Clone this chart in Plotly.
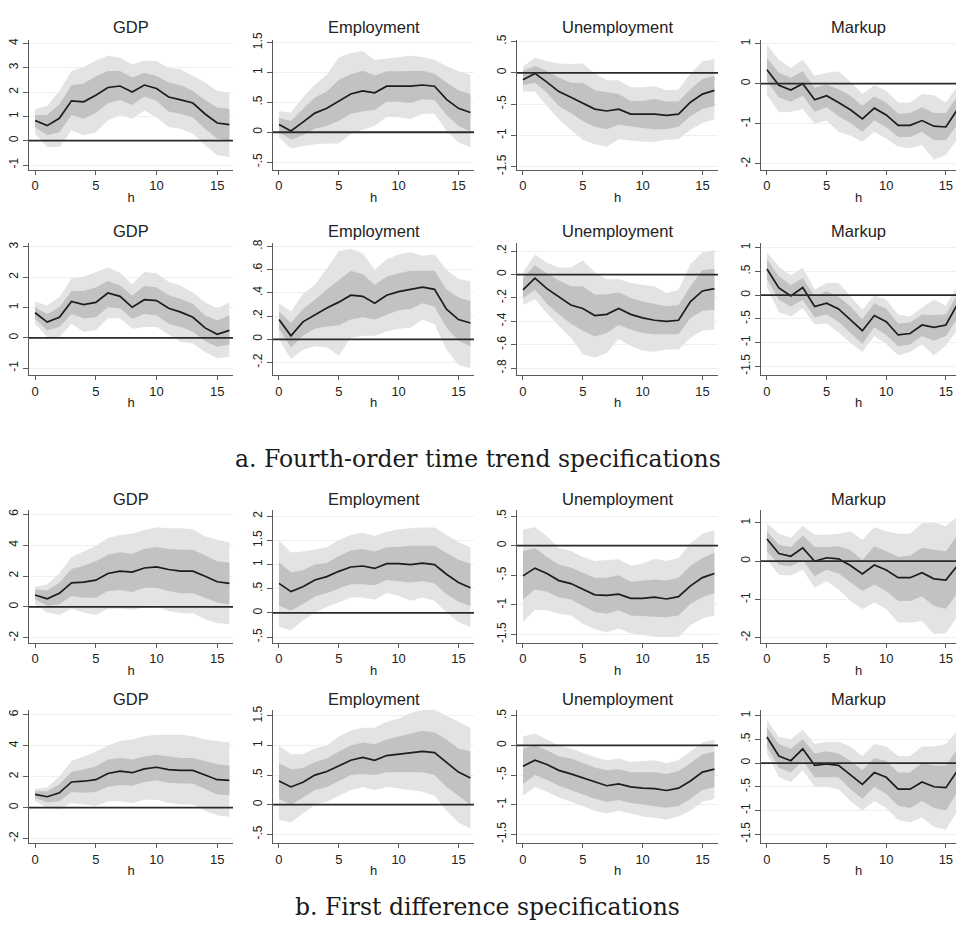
import plotly.graph_objects as go

# ---------------- data ----------------
h = list(range(17))
panel_titles = ["GDP", "Employment", "Unemployment", "Markup"]
caption_a = "a. Fourth-order time trend specifications"
caption_b = "b. First difference specifications"

# Row 1 (fourth-order trend, spec 1)
r1_gdp_line = [0.83,0.62,0.92,1.64,1.60,1.87,2.19,2.25,2.00,2.29,2.15,1.80,1.68,1.55,1.10,0.73,0.66]
r1_gdp_in_hi = [1.06,1.06,1.50,2.28,2.35,2.64,2.87,2.87,2.60,2.80,2.66,2.39,2.28,2.05,1.68,1.37,1.30]
r1_gdp_in_lo = [0.56,0.22,0.35,1.06,0.90,1.14,1.54,1.67,1.47,1.82,1.64,1.20,1.10,0.96,0.49,0.08,0.01]
r1_gdp_out_hi = [1.30,1.44,2.05,2.87,3.03,3.30,3.50,3.41,3.14,3.30,3.27,3.00,2.93,2.66,2.39,2.05,1.98]
r1_gdp_out_lo = [0.29,-0.26,-0.26,0.42,0.22,0.35,0.83,1.06,0.90,1.24,0.96,0.56,0.49,0.29,-0.19,-0.60,-0.67]

r1_emp_line = [0.13,0.02,0.17,0.32,0.40,0.52,0.64,0.69,0.66,0.77,0.77,0.77,0.79,0.77,0.55,0.40,0.33]
r1_emp_in_hi = [0.24,0.19,0.39,0.58,0.68,0.88,0.97,1.03,0.95,1.02,1.02,1.02,1.03,0.98,0.83,0.70,0.64]
r1_emp_in_lo = [0.00,-0.12,-0.05,0.06,0.11,0.19,0.31,0.35,0.37,0.51,0.51,0.49,0.55,0.54,0.29,0.11,0.01]
r1_emp_out_hi = [0.35,0.33,0.58,0.80,0.96,1.25,1.32,1.36,1.21,1.23,1.26,1.28,1.26,1.21,1.11,1.02,0.96]
r1_emp_out_lo = [-0.09,-0.27,-0.23,-0.20,-0.19,-0.19,-0.03,0.04,0.11,0.26,0.25,0.22,0.31,0.31,0.02,-0.17,-0.25]

r1_une_line = [-0.11,-0.01,-0.15,-0.30,-0.39,-0.49,-0.58,-0.61,-0.58,-0.66,-0.66,-0.66,-0.68,-0.66,-0.47,-0.34,-0.28]
r1_une_in_hi = [0.03,0.11,0.03,-0.08,-0.16,-0.16,-0.28,-0.31,-0.34,-0.45,-0.45,-0.42,-0.46,-0.46,-0.26,-0.10,-0.05]
r1_une_in_lo = [-0.20,-0.16,-0.32,-0.53,-0.64,-0.77,-0.86,-0.90,-0.83,-0.86,-0.88,-0.90,-0.90,-0.86,-0.69,-0.58,-0.53]
r1_une_out_hi = [0.10,0.24,0.19,0.15,0.14,0.15,-0.01,-0.12,-0.12,-0.23,-0.23,-0.21,-0.28,-0.27,-0.01,0.18,0.22]
r1_une_out_lo = [-0.30,-0.30,-0.53,-0.74,-0.91,-1.07,-1.14,-1.18,-1.06,-1.08,-1.10,-1.10,-1.07,-1.06,-0.91,-0.80,-0.74]

r1_mku_line = [0.35,-0.04,-0.16,0.00,-0.40,-0.30,-0.47,-0.65,-0.88,-0.61,-0.78,-1.04,-1.04,-0.92,-1.06,-1.08,-0.63]
r1_mku_in_hi = [0.64,0.27,0.15,0.31,-0.10,-0.02,-0.14,-0.30,-0.55,-0.32,-0.47,-0.75,-0.73,-0.59,-0.73,-0.73,-0.30]
r1_mku_in_lo = [0.07,-0.34,-0.45,-0.30,-0.70,-0.59,-0.81,-0.98,-1.20,-0.92,-1.08,-1.33,-1.33,-1.20,-1.41,-1.41,-1.00]
r1_mku_out_hi = [0.97,0.60,0.39,0.60,0.20,0.27,0.31,0.04,-0.26,-0.04,-0.18,-0.47,-0.47,-0.26,-0.29,-0.47,-0.06]
r1_mku_out_lo = [-0.29,-0.71,-0.70,-0.63,-1.00,-0.92,-1.20,-1.30,-1.45,-1.20,-1.37,-1.57,-1.61,-1.53,-1.90,-1.78,-1.37]

# Row 2 (fourth-order trend, spec 2)
r2_gdp_line = [0.83,0.52,0.68,1.20,1.10,1.17,1.48,1.37,1.01,1.26,1.23,0.98,0.85,0.68,0.33,0.12,0.25]
r2_gdp_in_hi = [1.01,0.79,1.01,1.55,1.55,1.66,1.88,1.74,1.39,1.72,1.66,1.41,1.28,1.12,0.74,0.58,0.74]
r2_gdp_in_lo = [0.63,0.25,0.36,0.79,0.65,0.68,1.01,0.98,0.63,0.79,0.74,0.47,0.36,0.20,-0.11,-0.29,-0.22]
r2_gdp_out_hi = [1.20,1.07,1.34,1.96,2.02,2.17,2.32,2.15,1.77,2.17,2.13,1.85,1.72,1.50,1.17,0.98,1.17]
r2_gdp_out_lo = [0.47,0.03,0.03,0.47,0.20,0.25,0.65,0.65,0.30,0.36,0.36,0.11,-0.13,-0.18,-0.46,-0.67,-0.62]

r2_emp_line = [0.17,0.03,0.15,0.21,0.27,0.32,0.38,0.37,0.31,0.38,0.41,0.43,0.45,0.43,0.26,0.17,0.14]
r2_emp_in_hi = [0.24,0.14,0.26,0.34,0.43,0.51,0.59,0.56,0.47,0.54,0.57,0.59,0.59,0.59,0.43,0.36,0.33]
r2_emp_in_lo = [0.09,-0.07,0.03,0.09,0.11,0.12,0.17,0.19,0.17,0.21,0.25,0.26,0.31,0.28,0.10,-0.01,-0.06]
r2_emp_out_hi = [0.31,0.24,0.39,0.47,0.61,0.76,0.78,0.74,0.60,0.69,0.73,0.75,0.72,0.73,0.60,0.52,0.50]
r2_emp_out_lo = [0.00,-0.17,-0.09,-0.06,-0.07,-0.14,0.01,0.03,0.03,0.07,0.09,0.10,0.17,0.13,-0.09,-0.22,-0.25]

r2_une_line = [-0.13,-0.03,-0.12,-0.19,-0.26,-0.29,-0.35,-0.34,-0.29,-0.34,-0.37,-0.39,-0.40,-0.39,-0.23,-0.14,-0.12]
r2_une_in_hi = [-0.03,0.08,0.01,-0.05,-0.10,-0.10,-0.17,-0.17,-0.15,-0.20,-0.23,-0.25,-0.27,-0.26,-0.10,0.04,0.05]
r2_une_in_lo = [-0.20,-0.13,-0.25,-0.34,-0.42,-0.48,-0.53,-0.50,-0.43,-0.47,-0.50,-0.51,-0.51,-0.51,-0.37,-0.31,-0.30]
r2_une_out_hi = [0.02,0.17,0.10,0.06,0.06,0.12,0.02,-0.04,-0.04,-0.07,-0.09,-0.10,-0.16,-0.13,0.09,0.19,0.21]
r2_une_out_lo = [-0.26,-0.21,-0.33,-0.44,-0.54,-0.68,-0.71,-0.67,-0.55,-0.61,-0.65,-0.66,-0.64,-0.64,-0.54,-0.48,-0.47]

r2_mku_line = [0.55,0.15,-0.02,0.16,-0.24,-0.17,-0.29,-0.51,-0.75,-0.43,-0.56,-0.84,-0.81,-0.63,-0.68,-0.63,-0.18]
r2_mku_in_hi = [0.75,0.40,0.21,0.36,-0.03,0.08,-0.03,-0.24,-0.51,-0.17,-0.29,-0.60,-0.58,-0.41,-0.42,-0.41,0.03]
r2_mku_in_lo = [0.34,-0.10,-0.24,-0.10,-0.47,-0.41,-0.56,-0.79,-1.03,-0.68,-0.84,-1.08,-1.04,-0.86,-0.96,-0.86,-0.48]
r2_mku_out_hi = [0.90,0.60,0.42,0.58,0.12,0.26,0.26,-0.03,-0.31,-0.01,-0.10,-0.41,-0.45,-0.26,-0.10,-0.22,0.21]
r2_mku_out_lo = [0.17,-0.36,-0.45,-0.27,-0.62,-0.60,-0.79,-1.01,-1.20,-0.86,-1.03,-1.27,-1.20,-1.04,-1.27,-1.06,-0.72]

# Row 3 (first difference, spec 1)
r3_gdp_line = [0.77,0.53,0.88,1.56,1.60,1.73,2.16,2.31,2.25,2.52,2.59,2.42,2.31,2.31,1.99,1.63,1.52]
r3_gdp_in_hi = [1.13,1.07,1.56,2.46,2.67,2.95,3.38,3.53,3.44,3.74,3.87,3.74,3.70,3.70,3.32,2.95,2.85]
r3_gdp_in_lo = [0.49,0.06,0.17,0.71,0.60,0.60,1.03,1.09,0.96,1.24,1.24,1.03,0.88,0.88,0.60,0.28,0.17]
r3_gdp_out_hi = [1.30,1.45,2.16,3.23,3.59,3.96,4.45,4.66,4.73,4.98,5.16,5.09,5.09,5.03,4.56,4.34,4.17]
r3_gdp_out_lo = [0.17,-0.36,-0.53,-0.11,-0.36,-0.53,-0.11,-0.11,-0.19,-0.04,0.02,-0.26,-0.41,-0.41,-0.79,-1.05,-1.11]

r3_emp_line = [0.61,0.44,0.54,0.68,0.75,0.86,0.95,0.97,0.92,1.02,1.02,1.00,1.03,1.00,0.80,0.63,0.52]
r3_emp_in_hi = [1.05,0.84,0.88,1.00,1.03,1.18,1.29,1.32,1.27,1.36,1.37,1.39,1.39,1.39,1.24,1.10,1.02]
r3_emp_in_lo = [0.15,0.05,0.18,0.34,0.41,0.50,0.59,0.59,0.57,0.68,0.66,0.63,0.66,0.61,0.39,0.23,0.14]
r3_emp_out_hi = [1.50,1.25,1.27,1.31,1.36,1.51,1.61,1.66,1.59,1.68,1.73,1.75,1.77,1.77,1.61,1.46,1.36]
r3_emp_out_lo = [-0.29,-0.36,-0.16,0.01,0.12,0.22,0.32,0.32,0.27,0.41,0.35,0.25,0.32,0.25,0.01,-0.19,-0.29]

r3_une_line = [-0.51,-0.38,-0.47,-0.59,-0.64,-0.74,-0.83,-0.84,-0.82,-0.89,-0.89,-0.87,-0.90,-0.86,-0.68,-0.54,-0.47]
r3_une_in_hi = [-0.09,-0.04,-0.19,-0.32,-0.37,-0.46,-0.54,-0.54,-0.50,-0.61,-0.59,-0.57,-0.59,-0.54,-0.34,-0.21,-0.12]
r3_une_in_lo = [-0.91,-0.74,-0.78,-0.87,-0.91,-1.02,-1.12,-1.15,-1.09,-1.18,-1.19,-1.21,-1.21,-1.18,-0.98,-0.87,-0.80]
r3_une_out_hi = [0.27,0.31,0.16,-0.04,-0.09,-0.19,-0.26,-0.24,-0.23,-0.34,-0.30,-0.22,-0.26,-0.21,0.04,0.20,0.26]
r3_une_out_lo = [-1.29,-1.08,-1.09,-1.15,-1.18,-1.32,-1.41,-1.46,-1.40,-1.48,-1.51,-1.54,-1.54,-1.54,-1.34,-1.23,-1.18]

r3_mku_line = [0.58,0.20,0.13,0.35,0.00,0.09,0.06,-0.11,-0.33,-0.10,-0.23,-0.43,-0.43,-0.30,-0.46,-0.49,-0.10]
r3_mku_in_hi = [0.78,0.43,0.37,0.67,0.37,0.37,0.39,0.29,0.03,0.39,0.26,0.11,0.15,0.35,0.30,0.26,0.69]
r3_mku_in_lo = [0.26,-0.09,-0.13,0.03,-0.39,-0.22,-0.32,-0.56,-0.78,-0.61,-0.78,-1.04,-1.04,-0.92,-1.17,-1.24,-0.82]
r3_mku_out_hi = [0.99,0.72,0.61,0.92,0.69,0.69,0.72,0.78,0.56,0.89,0.78,0.72,0.72,0.99,1.01,0.91,1.17]
r3_mku_out_lo = [0.03,-0.35,-0.37,-0.22,-0.69,-0.52,-0.73,-1.04,-1.25,-1.08,-1.25,-1.60,-1.60,-1.56,-1.90,-1.88,-1.43]

# Row 4 (first difference, spec 2)
r4_gdp_line = [0.85,0.70,0.95,1.65,1.70,1.80,2.20,2.35,2.25,2.50,2.60,2.45,2.40,2.40,2.10,1.80,1.75]
r4_gdp_in_hi = [1.05,1.05,1.50,2.30,2.45,2.65,3.10,3.20,3.10,3.30,3.40,3.30,3.20,3.20,3.00,2.80,2.70]
r4_gdp_in_lo = [0.60,0.35,0.40,1.00,0.95,1.00,1.35,1.45,1.40,1.65,1.75,1.60,1.55,1.55,1.20,0.85,0.80]
r4_gdp_out_hi = [1.20,1.30,2.00,3.00,3.30,3.60,4.00,4.30,4.40,4.60,4.70,4.70,4.70,4.60,4.40,4.30,4.20]
r4_gdp_out_lo = [0.40,0.00,-0.10,0.30,0.20,0.10,0.40,0.40,0.30,0.50,0.50,0.30,0.20,0.20,-0.20,-0.50,-0.60]

r4_emp_line = [0.40,0.30,0.38,0.50,0.56,0.65,0.75,0.80,0.75,0.83,0.85,0.87,0.90,0.88,0.72,0.55,0.45]
r4_emp_in_hi = [0.70,0.60,0.62,0.72,0.78,0.90,1.00,1.05,1.02,1.10,1.15,1.20,1.25,1.22,1.10,0.95,0.90]
r4_emp_in_lo = [0.10,0.00,0.12,0.25,0.30,0.40,0.50,0.52,0.50,0.55,0.55,0.55,0.55,0.50,0.30,0.15,0.00]
r4_emp_out_hi = [1.00,0.85,0.85,0.95,1.00,1.15,1.25,1.30,1.30,1.40,1.45,1.55,1.60,1.60,1.50,1.40,1.30]
r4_emp_out_lo = [-0.25,-0.30,-0.15,0.00,0.05,0.15,0.25,0.30,0.25,0.30,0.28,0.25,0.22,0.15,-0.10,-0.30,-0.40]

r4_une_line = [-0.35,-0.25,-0.32,-0.42,-0.48,-0.55,-0.62,-0.68,-0.65,-0.70,-0.72,-0.73,-0.76,-0.72,-0.60,-0.45,-0.40]
r4_une_in_hi = [-0.05,0.00,-0.08,-0.18,-0.22,-0.30,-0.37,-0.42,-0.40,-0.45,-0.45,-0.45,-0.48,-0.43,-0.30,-0.15,-0.10]
r4_une_in_lo = [-0.65,-0.50,-0.58,-0.68,-0.75,-0.82,-0.90,-0.95,-0.92,-0.97,-1.00,-1.02,-1.05,-1.02,-0.90,-0.75,-0.70]
r4_une_out_hi = [0.15,0.20,0.10,0.00,-0.05,-0.12,-0.20,-0.25,-0.22,-0.28,-0.27,-0.25,-0.30,-0.25,-0.10,0.05,0.10]
r4_une_out_lo = [-0.85,-0.70,-0.78,-0.88,-0.95,-1.02,-1.10,-1.15,-1.10,-1.15,-1.20,-1.22,-1.25,-1.20,-1.10,-0.95,-0.90]

r4_mku_line = [0.55,0.15,0.05,0.30,-0.05,-0.02,-0.05,-0.25,-0.45,-0.20,-0.30,-0.55,-0.55,-0.40,-0.50,-0.52,-0.15]
r4_mku_in_hi = [0.75,0.40,0.30,0.50,0.20,0.25,0.20,0.05,-0.15,0.10,0.05,-0.20,-0.20,0.00,-0.05,-0.05,0.30]
r4_mku_in_lo = [0.35,-0.10,-0.20,0.05,-0.30,-0.30,-0.30,-0.55,-0.75,-0.50,-0.65,-0.90,-0.95,-0.80,-0.95,-1.00,-0.60]
r4_mku_out_hi = [0.90,0.55,0.50,0.70,0.40,0.45,0.45,0.35,0.15,0.40,0.35,0.15,0.15,0.35,0.35,0.40,0.70]
r4_mku_out_lo = [0.20,-0.30,-0.40,-0.15,-0.50,-0.50,-0.55,-0.80,-1.00,-0.80,-0.95,-1.20,-1.25,-1.15,-1.35,-1.40,-1.00]

# y tick values per panel (row-major)
yticks = [
    [-1, 0, 1, 2, 3, 4], [-0.5, 0, 0.5, 1, 1.5], [-1.5, -1, -0.5, 0, 0.5], [-2, -1, 0, 1],
    [-1, 0, 1, 2, 3], [-0.2, 0, 0.2, 0.4, 0.6, 0.8], [-0.8, -0.6, -0.4, -0.2, 0, 0.2], [-1.5, -1, -0.5, 0, 0.5, 1],
    [-2, 0, 2, 4, 6], [-0.5, 0, 0.5, 1, 1.5, 2], [-1.5, -1, -0.5, 0, 0.5], [-2, -1, 0, 1],
    [-2, 0, 2, 4, 6], [-0.5, 0, 0.5, 1, 1.5], [-1.5, -1, -0.5, 0, 0.5], [-1.5, -1, -0.5, 0, 0.5, 1],
]
yranges = [
    [-1.2, 4.16], [-0.63, 1.55], [-1.55, 0.53], [-2.15, 1.1],
    [-1.23, 3.13], [-0.31, 0.83], [-0.86, 0.27], [-1.69, 1.1],
    [-2.32, 6.3], [-0.62, 2.14], [-1.64, 0.61], [-2.13, 1.35],
    [-2.3, 6.3], [-0.65, 1.6], [-1.65, 0.6], [-1.69, 1.12],
]
xticks = [0, 5, 10, 15]

panels = [
    (r1_gdp_line, r1_gdp_in_lo, r1_gdp_in_hi, r1_gdp_out_lo, r1_gdp_out_hi),
    (r1_emp_line, r1_emp_in_lo, r1_emp_in_hi, r1_emp_out_lo, r1_emp_out_hi),
    (r1_une_line, r1_une_in_lo, r1_une_in_hi, r1_une_out_lo, r1_une_out_hi),
    (r1_mku_line, r1_mku_in_lo, r1_mku_in_hi, r1_mku_out_lo, r1_mku_out_hi),
    (r2_gdp_line, r2_gdp_in_lo, r2_gdp_in_hi, r2_gdp_out_lo, r2_gdp_out_hi),
    (r2_emp_line, r2_emp_in_lo, r2_emp_in_hi, r2_emp_out_lo, r2_emp_out_hi),
    (r2_une_line, r2_une_in_lo, r2_une_in_hi, r2_une_out_lo, r2_une_out_hi),
    (r2_mku_line, r2_mku_in_lo, r2_mku_in_hi, r2_mku_out_lo, r2_mku_out_hi),
    (r3_gdp_line, r3_gdp_in_lo, r3_gdp_in_hi, r3_gdp_out_lo, r3_gdp_out_hi),
    (r3_emp_line, r3_emp_in_lo, r3_emp_in_hi, r3_emp_out_lo, r3_emp_out_hi),
    (r3_une_line, r3_une_in_lo, r3_une_in_hi, r3_une_out_lo, r3_une_out_hi),
    (r3_mku_line, r3_mku_in_lo, r3_mku_in_hi, r3_mku_out_lo, r3_mku_out_hi),
    (r4_gdp_line, r4_gdp_in_lo, r4_gdp_in_hi, r4_gdp_out_lo, r4_gdp_out_hi),
    (r4_emp_line, r4_emp_in_lo, r4_emp_in_hi, r4_emp_out_lo, r4_emp_out_hi),
    (r4_une_line, r4_une_in_lo, r4_une_in_hi, r4_une_out_lo, r4_une_out_hi),
    (r4_mku_line, r4_mku_in_lo, r4_mku_in_hi, r4_mku_out_lo, r4_mku_out_hi),
]


def stata_label(v):
    s = ("%g" % v)
    if s.startswith("0."):
        s = s[1:]
    elif s.startswith("-0."):
        s = "-" + s[2:]
    return s


# ---------------- layout geometry (window pixels) ----------------
W, HT = 956, 942
col_px = [(29, 233), (273, 474), (517, 718), (761, 956)]
row_px = [(33, 165), (239, 373), (509, 644), (712, 847)]
title_px = [20, 227, 498, 701]
xranges = [[-0.5, 16.3], [-0.5, 16.3], [-0.5, 16.3], [-0.5, 15.85]]


def px_x(p):
    return p / W


def px_y(p):
    return 1 - p / HT


LIGHT = "#e3e3e3"
DARK = "#c2c2c2"
LINE = "#1c1c1c"
AX = "#5a5a5a"
FONT = "Liberation Sans"

fig = go.Figure()
layout = dict(
    width=W, height=HT, margin=dict(l=0, r=0, t=0, b=0),
    paper_bgcolor="white", plot_bgcolor="white", showlegend=False,
    font=dict(family=FONT, color="#222"),
)
shapes = []
annotations = []

for k, (line, in_lo, in_hi, out_lo, out_hi) in enumerate(panels):
    r, c = divmod(k, 4)
    n = k + 1
    xa = "x" if n == 1 else f"x{n}"
    ya = "y" if n == 1 else f"y{n}"
    common = dict(x=h, xaxis=xa, yaxis=ya, mode="lines", hoverinfo="skip", showlegend=False)
    fig.add_trace(go.Scatter(y=out_lo, line=dict(width=0, color=LIGHT), **common))
    fig.add_trace(go.Scatter(y=out_hi, line=dict(width=0, color=LIGHT), fill="tonexty", fillcolor=LIGHT, **common))
    fig.add_trace(go.Scatter(y=in_lo, line=dict(width=0, color=DARK), **common))
    fig.add_trace(go.Scatter(y=in_hi, line=dict(width=0, color=DARK), fill="tonexty", fillcolor=DARK, **common))
    fig.add_trace(go.Scatter(y=line, line=dict(width=1.7, color=LINE), **common))

    l, rr = col_px[c]
    t, b = row_px[r]
    layout["xaxis" if n == 1 else f"xaxis{n}"] = dict(
        domain=[px_x(l), min(1.0, px_x(rr))], anchor=ya, range=xranges[c],
        tickvals=xticks, showline=True, linecolor=AX, linewidth=1,
        ticks="outside", ticklen=4, tickcolor=AX, showgrid=False, zeroline=False,
        tickfont=dict(size=13, family=FONT, color="#222"),
        ticklabeloverflow="allow",
        title=dict(text="h", font=dict(size=13, family=FONT, color="#222"), standoff=0),
    )
    yt = yticks[k]
    layout["yaxis" if n == 1 else f"yaxis{n}"] = dict(
        domain=[px_y(b), px_y(t)], anchor=xa, range=yranges[k],
        tickvals=yt, ticktext=[stata_label(v) for v in yt], tickangle=-90,
        showline=True, linecolor=AX, linewidth=1, ticks="outside", ticklen=5, tickcolor=AX,
        showgrid=True, gridcolor="#efefef", gridwidth=1, zeroline=False,
        tickfont=dict(size=12, family=FONT, color="#222"),
    )
    shapes.append(dict(type="line", xref=f"{xa} domain", yref=ya, x0=0, x1=1, y0=0, y1=0,
                       line=dict(color="#2a2a2a", width=1.8), layer="above"))
    annotations.append(dict(text=panel_titles[c], x=(px_x(l) + px_x(rr)) / 2, y=px_y(title_px[r]),
                            xref="paper", yref="paper", showarrow=False, xanchor="center", yanchor="middle",
                            font=dict(size=16.5, family=FONT, color="#222")))

annotations.append(dict(text=caption_a, x=px_x(478), y=px_y(458), xref="paper", yref="paper",
                        showarrow=False, xanchor="center", yanchor="middle",
                        font=dict(size=23.5, family="DejaVu Serif", color="#1a1a1a")))
annotations.append(dict(text=caption_b, x=px_x(487), y=px_y(912), xref="paper", yref="paper",
                        showarrow=False, xanchor="center", yanchor="middle",
                        font=dict(size=23.5, family="DejaVu Serif", color="#1a1a1a")))

layout["shapes"] = shapes
layout["annotations"] = annotations
fig.update_layout(**layout)
fig.write_html(
    "out.html",
    config={"displayModeBar": False},
    post_script="document.body.style.margin='0px';document.body.style.overflow='hidden';",
)
